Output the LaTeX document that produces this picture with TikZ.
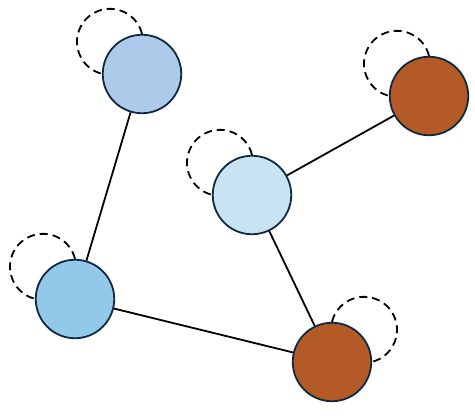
\documentclass[tikz,border=0pt]{standalone}
\definecolor{nodeA}{HTML}{ADCAEA}
\definecolor{nodeC}{HTML}{C9E3F2}
\definecolor{nodeD}{HTML}{93C9E8}
\definecolor{brownfill}{HTML}{B35A27}
\definecolor{rim}{HTML}{0F2A40}
\tikzset{
  vertex/.style={circle, draw=rim, line width=1.8pt, minimum size=78.5pt, inner sep=0pt},
  link/.style={draw=black, line width=1.8pt},
  selfloop/.style={draw=black, line width=1.8pt, dash pattern=on 8pt off 5pt}
}
\begin{document}
\begin{tikzpicture}[x=1pt,y=1pt]
\useasboundingbox (0,0) rectangle (475,418);
\node[vertex, fill=nodeA] (A) at (142,344) {};
\node[vertex, fill=brownfill] (B) at (429,322) {};
\node[vertex, fill=nodeC] (C) at (252,223) {};
\node[vertex, fill=nodeD] (D) at (75,119) {};
\node[vertex, fill=brownfill] (E) at (332,56) {};
\draw[link] (A) -- (D);
\draw[link] (C) -- (B);
\draw[link] (C) -- (E);
\draw[link] (D) -- (E);
\draw[selfloop] (A.north) arc[start angle=14, end angle=256, radius=33];
\draw[selfloop] (B.north) arc[start angle=14, end angle=256, radius=33];
\draw[selfloop] (C.north) arc[start angle=14, end angle=256, radius=33];
\draw[selfloop] (D.north) arc[start angle=14, end angle=256, radius=33];
\draw[selfloop] (E.north) arc[start angle=166, end angle=-76, radius=33];
\end{tikzpicture}
\end{document}
